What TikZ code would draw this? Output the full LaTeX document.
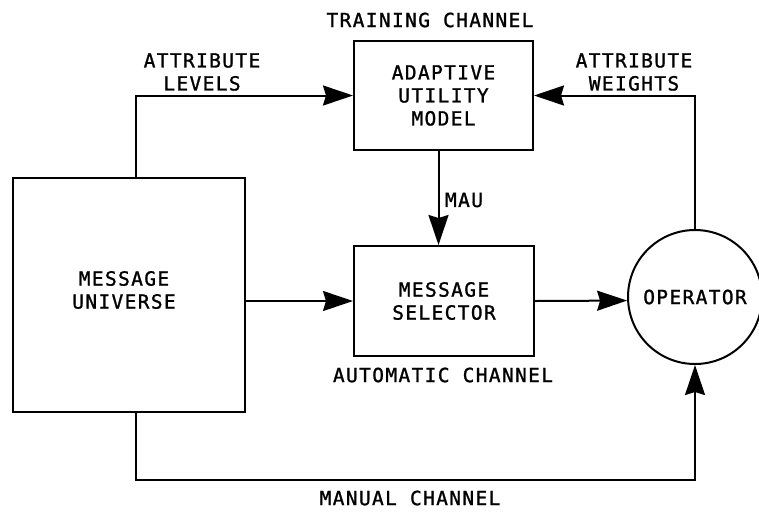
\documentclass[tikz,border=0pt]{standalone}
\usepackage{fontspec}
\newfontfamily\lbl[LetterSpace=7,FakeBold=1.2]{DejaVu Sans Mono}
\usetikzlibrary{arrows.meta,calc}
\begin{document}
\begin{tikzpicture}[x=1pt,y=-1pt,
  every node/.style={font=\lbl\fontsize{19.5}{23}\selectfont, align=center},
  box/.style={draw, line width=2pt, inner sep=0pt},
  lab/.style={inner sep=0pt},
  conn/.style={line width=2pt},
  arr/.style={conn, -{Stealth[length=30pt,width=20pt,inset=3pt]}}]
\useasboundingbox (0,0) rectangle (759,512);
\node[box, minimum width=232pt, minimum height=234pt] (mu) at (129,295) {};
\node[lab] (mut) at (124,290) {MESSAGE\\UNIVERSE};
\node[box, minimum width=179pt, minimum height=109pt] (aum) at (443.5,95.5) {ADAPTIVE\\UTILITY\\MODEL};
\node[box, minimum width=180pt, minimum height=110pt] (ms) at (444,301) {MESSAGE\\SELECTOR};
\node[box, circle, minimum size=134pt] (op) at (695,297) {OPERATOR};
\node[lab] (tc) at (430,20) {TRAINING CHANNEL};
\node[lab] (al) at (202,72) {ATTRIBUTE\\LEVELS};
\node[lab] (aw) at (634,72) {ATTRIBUTE\\WEIGHTS};
\node[lab] (mau) at (464,200) {MAU};
\node[lab] (ac) at (443,375) {AUTOMATIC CHANNEL};
\node[lab] (mc) at (410,498) {MANUAL CHANNEL};
\draw[arr] ([xshift=7pt]mu.north) |- (aum.west);
\draw[arr] (op.north) |- (aum.east);
\draw[arr] ([xshift=-5pt]aum.south) -- ([xshift=-5pt]aum.south |- ms.north);
\draw[arr] (mu.east |- ms.west) -- (ms.west);
\draw[arr] (ms.east) -- (op.183);
\draw[arr] ([xshift=7pt]mu.south) -- ++(0,67) -| (op.south);
\end{tikzpicture}
\end{document}
